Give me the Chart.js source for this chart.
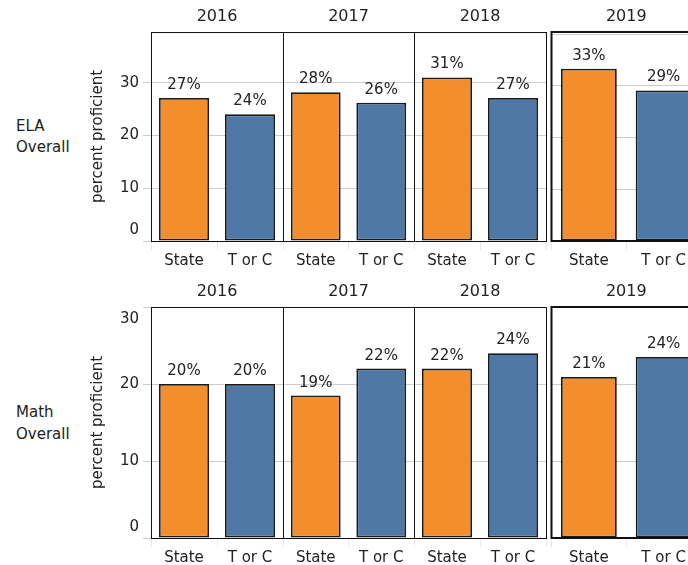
<!DOCTYPE html>
<html>
<head>
<meta charset="utf-8">
<script src="https://cdn.jsdelivr.net/npm/chart.js@4.4.0/dist/chart.umd.min.js"></script>
<style>
  body { margin: 0; width: 688px; height: 565px; overflow: hidden; background: #fff; position: relative; }
  canvas { position: absolute; }
  .rowlab { position: absolute; left: 16px; font: 15px "DejaVu Sans"; color: #222; }
</style>
</head>
<body>
<div class="rowlab" style="top:116px;line-height:21px">ELA<br>Overall</div>
<div class="rowlab" style="top:401px;line-height:22px">Math<br>Overall</div>

<script>
// data
const years = ['2016', '2017', '2018', '2019'];
const groups = ['State', 'T or C'];
const elaState = [27.1, 28.2, 31.0, 33.3];
const elaTorC = [24.0, 26.2, 27.1, 29.1];
const mathState = [20.0, 18.5, 22.0, 20.9];
const mathTorC = [20.0, 22.0, 24.0, 23.5];
const yTicks = [0, 10, 20, 30];

const FONT = '"DejaVu Sans"';
const TEXT = '#222';
const ORANGE = '#F28E2B';
const BLUE = '#4E79A7';
const GRID = '#cdcdcd';

// pixel layout of the panels (left, width, padding left, bar pct)
const cols = [
    { left: 0, width: 284, padLeft: 85, bar: 0.76, axis: true },
    { left: 283, width: 132, padLeft: 0, bar: 0.76 },
    { left: 414, width: 133, padLeft: 0, bar: 0.76 },
    { left: 550, width: 152, padLeft: 1.5, bar: 0.747, thick: true }
];
const rows = [
    { top: 0, height: 280, padTop: 32, xH: 39, max: [39.6, 39.6, 39.6, 40.4], state: elaState, torc: elaTorC },
    { top: 280, height: 285, padTop: 27, xH: 27, max: [30, 30, 30, 30], state: mathState, torc: mathTorC }
];

// frame, year heading, value labels and y labels
const panelPlugin = {
    id: 'panel',
    afterDatasetsDraw(chart, args, opts) {
        const { ctx, chartArea: a } = chart;
        ctx.save();
        ctx.strokeStyle = '#111';
        if (opts.thick) {
            ctx.lineWidth = 2;
            ctx.strokeRect(a.left, a.top, a.right - a.left, a.bottom - a.top);
        } else {
            ctx.lineWidth = 1;
            ctx.strokeRect(a.left + 0.5, a.top + 0.5, a.right - a.left, a.bottom - a.top);
        }

        ctx.fillStyle = TEXT;
        ctx.textAlign = 'center';
        ctx.textBaseline = 'middle';
        ctx.font = '16px ' + FONT;
        ctx.fillText(opts.year, (a.left + a.right) / 2, a.top - 15.5);

        ctx.font = '15px ' + FONT;
        ctx.textBaseline = 'alphabetic';
        const meta = chart.getDatasetMeta(0);
        meta.data.forEach((bar, i) => {
            const v = chart.data.datasets[0].data[i];
            ctx.fillText(Math.round(v) + '%', bar.x, bar.y - 9);
        });

        if (opts.axis) {
            const y = chart.scales.y;
            ctx.textAlign = 'right';
            ctx.textBaseline = 'middle';
            yTicks.forEach(t => {
                let py = y.getPixelForValue(t);
                py = Math.min(Math.max(py, a.top + 12), a.bottom - 11);
                ctx.fillText(String(t), a.left - 12, py);
            });
        }
        ctx.restore();
    }
};

rows.forEach(row => {
    cols.forEach((col, i) => {
        const cv = document.createElement('canvas');
        cv.width = col.width;
        cv.height = row.height;
        cv.style.left = col.left + 'px';
        cv.style.top = row.top + 'px';
        document.body.appendChild(cv);

        new Chart(cv, {
            type: 'bar',
            data: {
                labels: groups,
                datasets: [{
                    data: [row.state[i], row.torc[i]],
                    backgroundColor: [ORANGE, BLUE],
                    borderColor: '#1a1a1a',
                    borderWidth: 1.8,
                    borderSkipped: false,
                    barPercentage: col.bar,
                    categoryPercentage: 1
                }]
            },
            options: {
                responsive: false,
                animation: false,
                devicePixelRatio: 1,
                layout: { padding: { left: col.padLeft, right: 1, top: row.padTop, bottom: 0 } },
                plugins: {
                    legend: { display: false },
                    tooltip: { enabled: false },
                    panel: { year: years[i], axis: !!col.axis, thick: !!col.thick }
                },
                scales: {
                    x: {
                        grid: { drawOnChartArea: false, tickColor: '#e8e8e8', tickLength: 9 },
                        border: { display: false },
                        ticks: { color: TEXT, font: { family: FONT, size: 15 }, padding: 2, maxRotation: 0 },
                        afterFit: s => { s.height = row.xH; }
                    },
                    y: {
                        min: 0,
                        max: row.max[i],
                        grid: { color: GRID, tickColor: GRID, drawTicks: !!col.axis, tickLength: 8 },
                        border: { display: false },
                        ticks: { display: false, stepSize: 10, includeBounds: false },
                        title: {
                            display: !!col.axis,
                            text: 'percent proficient',
                            color: TEXT,
                            font: { family: FONT, size: 15 },
                            padding: { top: 4, bottom: 0 }
                        },
                        afterFit: s => { s.width = col.axis ? 66 : 0; }
                    }
                }
            },
            plugins: [panelPlugin]
        });
    });
});
</script>
</body>
</html>
